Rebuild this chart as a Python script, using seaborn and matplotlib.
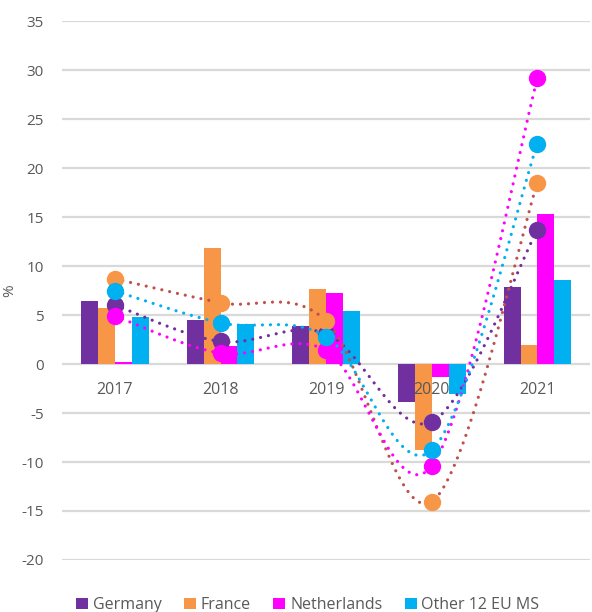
import numpy as np
import pandas as pd
import matplotlib
matplotlib.use("Agg")
import matplotlib.pyplot as plt
import seaborn as sns

# Data
years = ["2017", "2018", "2019", "2020", "2021"]
countries = ["Germany", "France", "Netherlands", "Other 12 EU MS"]

# bars
bar_germany = [6.4, 4.5, 3.9, -3.85, 7.9]
bar_france = [5.75, 11.8, 7.65, -8.8, 1.95]
bar_netherlands = [0.2, 1.8, 7.25, -1.35, 15.3]
bar_other = [4.75, 4.1, 5.4, -3.1, 8.55]

# dotted lines with markers
dot_germany = [6.0, 2.3, 3.1, -5.9, 13.7]
dot_france = [8.7, 6.25, 4.4, -14.05, 18.5]
dot_netherlands = [4.9, 1.1, 1.4, -10.4, 29.15]
dot_other = [7.45, 4.2, 2.8, -8.8, 22.5]

y_ticks = list(range(-20, 40, 5))

bar_colors = ["#7030A0", "#F79646", "#FF00FF", "#00B0F0"]
line_colors = ["#7030A0", "#C0504D", "#FF00FF", "#00B0F0"]
text_color = "#595959"
grid_color = "#D9D9D9"

df = pd.DataFrame({
    "year": years * 4,
    "country": np.repeat(countries, len(years)),
    "value": bar_germany + bar_france + bar_netherlands + bar_other,
})

sns.set_style("white")
plt.rcParams["font.family"] = ["Open Sans", "DejaVu Sans"]
plt.rcParams["axes.unicode_minus"] = False

fig = plt.figure(figsize=(5.92, 6.12), dpi=100)
ax = fig.add_axes([0.105, 0.085, 0.892, 0.8805])

# horizontal gridlines (kept under the bars)
for t in y_ticks:
    ax.axhline(t, color=grid_color, lw=1.6, zorder=0)

sns.barplot(data=df, x="year", y="value", hue="country", order=years,
            hue_order=countries, palette=bar_colors, width=0.64, gap=0,
            saturation=1, linewidth=0, edgecolor="none", ax=ax)
for p in ax.patches:
    p.set_zorder(1)


def smooth(vals, n=40):
    # Excel-like smoothed line (cubic Bezier, Catmull-Rom tangents)
    p = np.column_stack([np.arange(len(vals)), vals]).astype(float)
    xs, ys = [], []
    for i in range(len(p) - 1):
        p0 = p[i - 1] if i > 0 else p[i]
        p1, p2 = p[i], p[i + 1]
        p3 = p[i + 2] if i + 2 < len(p) else p[i + 1]
        c1 = p1 + (p2 - p0) / 6
        c2 = p2 - (p3 - p1) / 6
        t = np.linspace(0, 1, n)[:, None]
        b = ((1 - t) ** 3) * p1 + 3 * ((1 - t) ** 2) * t * c1 \
            + 3 * (1 - t) * t ** 2 * c2 + t ** 3 * p2
        xs.extend(b[:, 0])
        ys.extend(b[:, 1])
    return xs, ys


series = [dot_germany, dot_france, dot_netherlands, dot_other]
for k, vals in enumerate(series):
    sx, sy = smooth(vals)
    ax.plot(sx, sy, color=line_colors[k], lw=2.3, linestyle=(0, (0.01, 2.5)),
            dash_capstyle="round", zorder=3 + 2 * k)
    ax.plot(range(len(years)), vals, linestyle="none", marker="o",
            markersize=12.5, color=bar_colors[k], markeredgewidth=0,
            zorder=4 + 2 * k)

ax.set_xlim(-0.5, 4.5)
ax.set_ylim(-20, 35)
ax.set_yticks(y_ticks)
ax.set_xlabel("")
ax.set_ylabel("%", color=text_color, fontsize=11)
ax.yaxis.set_label_coords(-0.085, 0.5)
ax.set_axisbelow(False)

for s in ["top", "right", "left"]:
    ax.spines[s].set_visible(False)
ax.spines["bottom"].set_position(("data", 0))
ax.spines["bottom"].set_visible(False)
ax.tick_params(axis="x", length=0, pad=13, labelsize=11.5, labelcolor=text_color)
ax.tick_params(axis="y", length=0, pad=13, labelsize=11, labelcolor=text_color)

handles, labels = ax.get_legend_handles_labels()
ax.get_legend().remove()
leg = fig.legend(handles[:4], labels[:4], loc="lower center",
                 bbox_to_anchor=(0.52, -0.025), ncol=4, frameon=False,
                 fontsize=11.5, handlelength=0.75, handleheight=0.75,
                 handletextpad=0.3, columnspacing=1.4)
for txt in leg.get_texts():
    txt.set_color(text_color)

fig.savefig("out.png", dpi=100)
